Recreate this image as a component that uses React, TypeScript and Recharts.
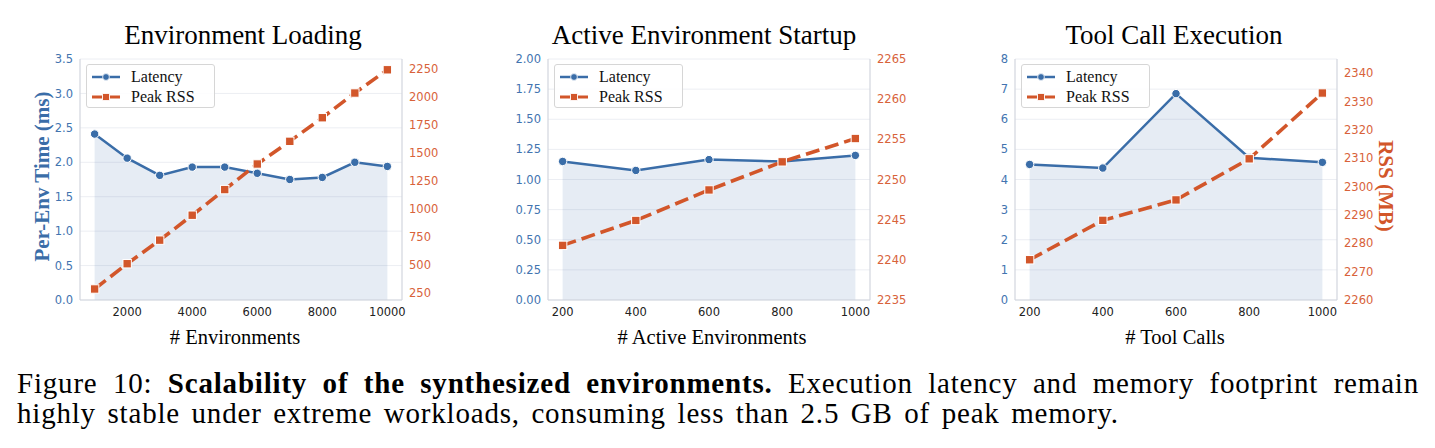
import React from "react"
import { ComposedChart, Area, Line, XAxis, YAxis, CartesianGrid, Legend } from "recharts"

// ---- data ----
const envCounts = [1000, 2000, 3000, 4000, 5000, 6000, 7000, 8000, 9000, 10000]
const envLatency = [2.41, 2.06, 1.81, 1.93, 1.93, 1.84, 1.75, 1.78, 2.0, 1.94]
const envRss = [289, 514, 724, 946, 1174, 1402, 1604, 1814, 2034, 2241]

const activeCounts = [200, 400, 600, 800, 1000]
const activeLatency = [1.15, 1.075, 1.165, 1.15, 1.2]
const activeRss = [2241.8, 2244.9, 2248.7, 2252.2, 2255.1]

const toolCounts = [200, 400, 600, 800, 1000]
const toolLatency = [4.5, 4.38, 6.85, 4.72, 4.57]
const toolRss = [2274.2, 2288.1, 2295.3, 2309.8, 2333.0]

const envXTicks = [2000, 4000, 6000, 8000, 10000]
const smallXTicks = [200, 400, 600, 800, 1000]
const envLatTicks = [0, 0.5, 1, 1.5, 2, 2.5, 3, 3.5]
const activeLatTicks = [0, 0.25, 0.5, 0.75, 1, 1.25, 1.5, 1.75, 2]
const toolLatTicks = [0, 1, 2, 3, 4, 5, 6, 7, 8]
const envRssTicks = [250, 500, 750, 1000, 1250, 1500, 1750, 2000, 2250]
const activeRssTicks = [2235, 2240, 2245, 2250, 2255, 2260, 2265]
const toolRssTicks = [2260, 2270, 2280, 2290, 2300, 2310, 2320, 2330, 2340]

// caption words; [text, bold]
const captionLine1: [string, boolean][] = [
  ["Figure", false], ["10:", false],
  ["Scalability", true], ["of", true], ["the", true], ["synthesized", true], ["environments.", true],
  ["Execution", false], ["latency", false], ["and", false], ["memory", false], ["footprint", false], ["remain", false],
]
const captionLine2 = "highly stable under extreme workloads, consuming less than 2.5 GB of peak memory.".split(" ")

// ---- styling ----
const BLUE = "#3a6da8"
const BLUE_TICK = "#4274b0"
const ORANGE = "#d2562a"
const ORANGE_TICK = "#d8623a"
const SPINE = "#d2d6de"
const GRID = "#eceef3"
const SERIF = "Liberation Serif, serif"
const SANS = "DejaVu Sans, sans-serif"

const PLOT_W = 322
const PLOT_H = 241
const PLOT_TOP = 59
const AXIS_W = 60
const XAXIS_H = 30

const zip = (xs: number[], lat: number[], rss: number[]) =>
  xs.map((x, i) => ({ x, latency: lat[i], rss: rss[i] }))

const CircleDot = (p: any) => (
  <circle key={`c${p.index}`} cx={p.cx} cy={p.cy} r={4.2} fill={BLUE} stroke="#fff" strokeWidth={1} />
)
const SquareDot = (p: any) => (
  <rect key={`s${p.index}`} x={p.cx - 4.2} y={p.cy - 4.2} width={8.4} height={8.4} fill={ORANGE} stroke="#fff" strokeWidth={1} />
)

function LegendBox() {
  const row = { display: "flex", alignItems: "center", height: 20 } as const
  const label = { fontFamily: SERIF, fontSize: 16, color: "#111", marginLeft: 11, lineHeight: "20px" }
  return (
    <div
      style={{
        width: 129,
        height: 44,
        border: "1px solid #d6d6d6",
        borderRadius: 3,
        background: "rgba(255,255,255,0.85)",
        padding: "2px 0 0 5px",
        boxSizing: "border-box",
      }}
    >
      <div style={row}>
        <svg width={28} height={12}>
          <line x1={0} y1={6} x2={28} y2={6} stroke={BLUE} strokeWidth={2.5} />
          <circle cx={14} cy={6} r={3.4} fill={BLUE} stroke="#fff" strokeWidth={0.8} />
        </svg>
        <span style={label}>Latency</span>
      </div>
      <div style={row}>
        <svg width={28} height={12}>
          <line x1={0} y1={6} x2={28} y2={6} stroke={ORANGE} strokeWidth={2.8} strokeDasharray="10 8" />
          <rect x={10.6} y={2.6} width={6.8} height={6.8} fill={ORANGE} stroke="#fff" strokeWidth={0.8} />
        </svg>
        <span style={label}>Peak RSS</span>
      </div>
    </div>
  )
}

interface PanelProps {
  plotLeft: number
  rows: { x: number; latency: number; rss: number }[]
  xDomain: [number, number]
  xTicks: number[]
  latDomain: [number, number]
  latTicks: number[]
  latFmt: (v: number) => string
  rssDomain: [number, number]
  rssTicks: number[]
}

function Panel({ plotLeft, rows, xDomain, xTicks, latDomain, latTicks, latFmt, rssDomain, rssTicks }: PanelProps) {
  return (
    <div style={{ position: "absolute", left: plotLeft - AXIS_W, top: 0 }}>
      <ComposedChart
        width={AXIS_W * 2 + PLOT_W}
        height={PLOT_TOP + PLOT_H + XAXIS_H}
        data={rows}
        margin={{ top: PLOT_TOP, right: 0, bottom: 0, left: 0 }}
      >
        <CartesianGrid yAxisId="lat" vertical={false} stroke={GRID} strokeWidth={1} />
        <XAxis
          dataKey="x"
          type="number"
          domain={xDomain}
          ticks={xTicks}
          height={XAXIS_H}
          tickLine={false}
          axisLine={{ stroke: SPINE, strokeWidth: 1.2 }}
          tick={{ fontSize: 11.5, fill: "#222", fontFamily: SANS }}
        />
        <YAxis
          yAxisId="lat"
          domain={latDomain}
          ticks={latTicks}
          tickFormatter={latFmt}
          width={AXIS_W}
          tickLine={false}
          tickMargin={1}
          axisLine={{ stroke: SPINE, strokeWidth: 1.2 }}
          tick={{ fontSize: 11.5, fill: BLUE_TICK, fontFamily: SANS }}
        />
        <YAxis
          yAxisId="rss"
          orientation="right"
          domain={rssDomain}
          ticks={rssTicks}
          allowDataOverflow
          width={AXIS_W}
          tickLine={false}
          tickMargin={1}
          axisLine={{ stroke: SPINE, strokeWidth: 1.2 }}
          tick={{ fontSize: 11.5, fill: ORANGE_TICK, fontFamily: SANS }}
        />
        <Area
          yAxisId="lat"
          type="linear"
          dataKey="latency"
          stroke="none"
          fill={BLUE}
          fillOpacity={0.13}
          isAnimationActive={false}
        />
        <Line
          yAxisId="lat"
          type="linear"
          dataKey="latency"
          stroke={BLUE}
          strokeWidth={2.5}
          dot={CircleDot}
          activeDot={false}
          isAnimationActive={false}
        />
        <Line
          yAxisId="rss"
          type="linear"
          dataKey="rss"
          stroke={ORANGE}
          strokeWidth={3.6}
          strokeDasharray="14 6"
          dot={SquareDot}
          activeDot={false}
          isAnimationActive={false}
        />
        <Legend
          layout="vertical"
          align="center"
          verticalAlign="middle"
          content={() => <LegendBox />}
          wrapperStyle={{ left: AXIS_W + 6, top: 64, width: "auto" }}
        />
      </ComposedChart>
    </div>
  )
}

function CaptionLine({ top, width, words }: { top: number; width: number; words: [string, boolean][] }) {
  return (
    <div
      style={{
        position: "absolute",
        left: 17,
        top,
        width,
        height: 30,
        display: "flex",
        justifyContent: "space-between",
        alignItems: "baseline",
        whiteSpace: "nowrap",
        fontFamily: SERIF,
        fontSize: 29,
        lineHeight: "30px",
        letterSpacing: 0.8,
        color: "#000",
      }}
    >
      {words.map(([w, b], i) => (
        <span key={i} style={{ fontWeight: b ? "bold" : "normal" }}>{w}</span>
      ))}
    </div>
  )
}

export default function App() {
  return (
    <div style={{ position: "absolute", left: 0, top: 0, width: 1435, height: 448, background: "#fff" }}>
      <Panel
        plotLeft={80}
        rows={zip(envCounts, envLatency, envRss)}
        xDomain={[550, 10450]}
        xTicks={envXTicks}
        latDomain={[0, 3.5]}
        latTicks={envLatTicks}
        latFmt={v => v.toFixed(1)}
        rssDomain={[191, 2337]}
        rssTicks={envRssTicks}
      />
      <Panel
        plotLeft={548}
        rows={zip(activeCounts, activeLatency, activeRss)}
        xDomain={[160, 1040]}
        xTicks={smallXTicks}
        latDomain={[0, 2]}
        latTicks={activeLatTicks}
        latFmt={v => v.toFixed(2)}
        rssDomain={[2235, 2265]}
        rssTicks={activeRssTicks}
      />
      <Panel
        plotLeft={1015}
        rows={zip(toolCounts, toolLatency, toolRss)}
        xDomain={[160, 1040]}
        xTicks={smallXTicks}
        latDomain={[0, 8]}
        latTicks={toolLatTicks}
        latFmt={v => String(v)}
        rssDomain={[2260, 2345]}
        rssTicks={toolRssTicks}
      />

      {/* titles and axis names */}
      <svg width={1435} height={448} style={{ position: "absolute", left: 0, top: 0, pointerEvents: "none" }}>
        <g fontFamily={SERIF} fontSize={27} fill="#000" textAnchor="middle">
          <text x={243} y={44}>Environment Loading</text>
          <text x={704} y={44}>Active Environment Startup</text>
          <text x={1174} y={44}>Tool Call Execution</text>
        </g>
        <g fontFamily={SERIF} fontSize={20.5} fill="#000" textAnchor="middle">
          <text x={235} y={344}># Environments</text>
          <text x={712} y={344}># Active Environments</text>
          <text x={1175} y={344}># Tool Calls</text>
        </g>
        <text
          transform="translate(48.5,176.5) rotate(-90)"
          textAnchor="middle"
          fontFamily={SERIF}
          fontWeight="bold"
          fontSize={21}
          fill={BLUE}
        >
          Per-Env Time (ms)
        </text>
        <text
          transform="translate(1379,186) rotate(90)"
          textAnchor="middle"
          fontFamily={SERIF}
          fontWeight="bold"
          fontSize={21}
          fill={ORANGE}
        >
          RSS (MB)
        </text>
      </svg>

      <CaptionLine top={368} width={1402} words={captionLine1} />
      <CaptionLine top={398} width={1102} words={captionLine2.map(w => [w, false] as [string, boolean])} />
    </div>
  )
}
